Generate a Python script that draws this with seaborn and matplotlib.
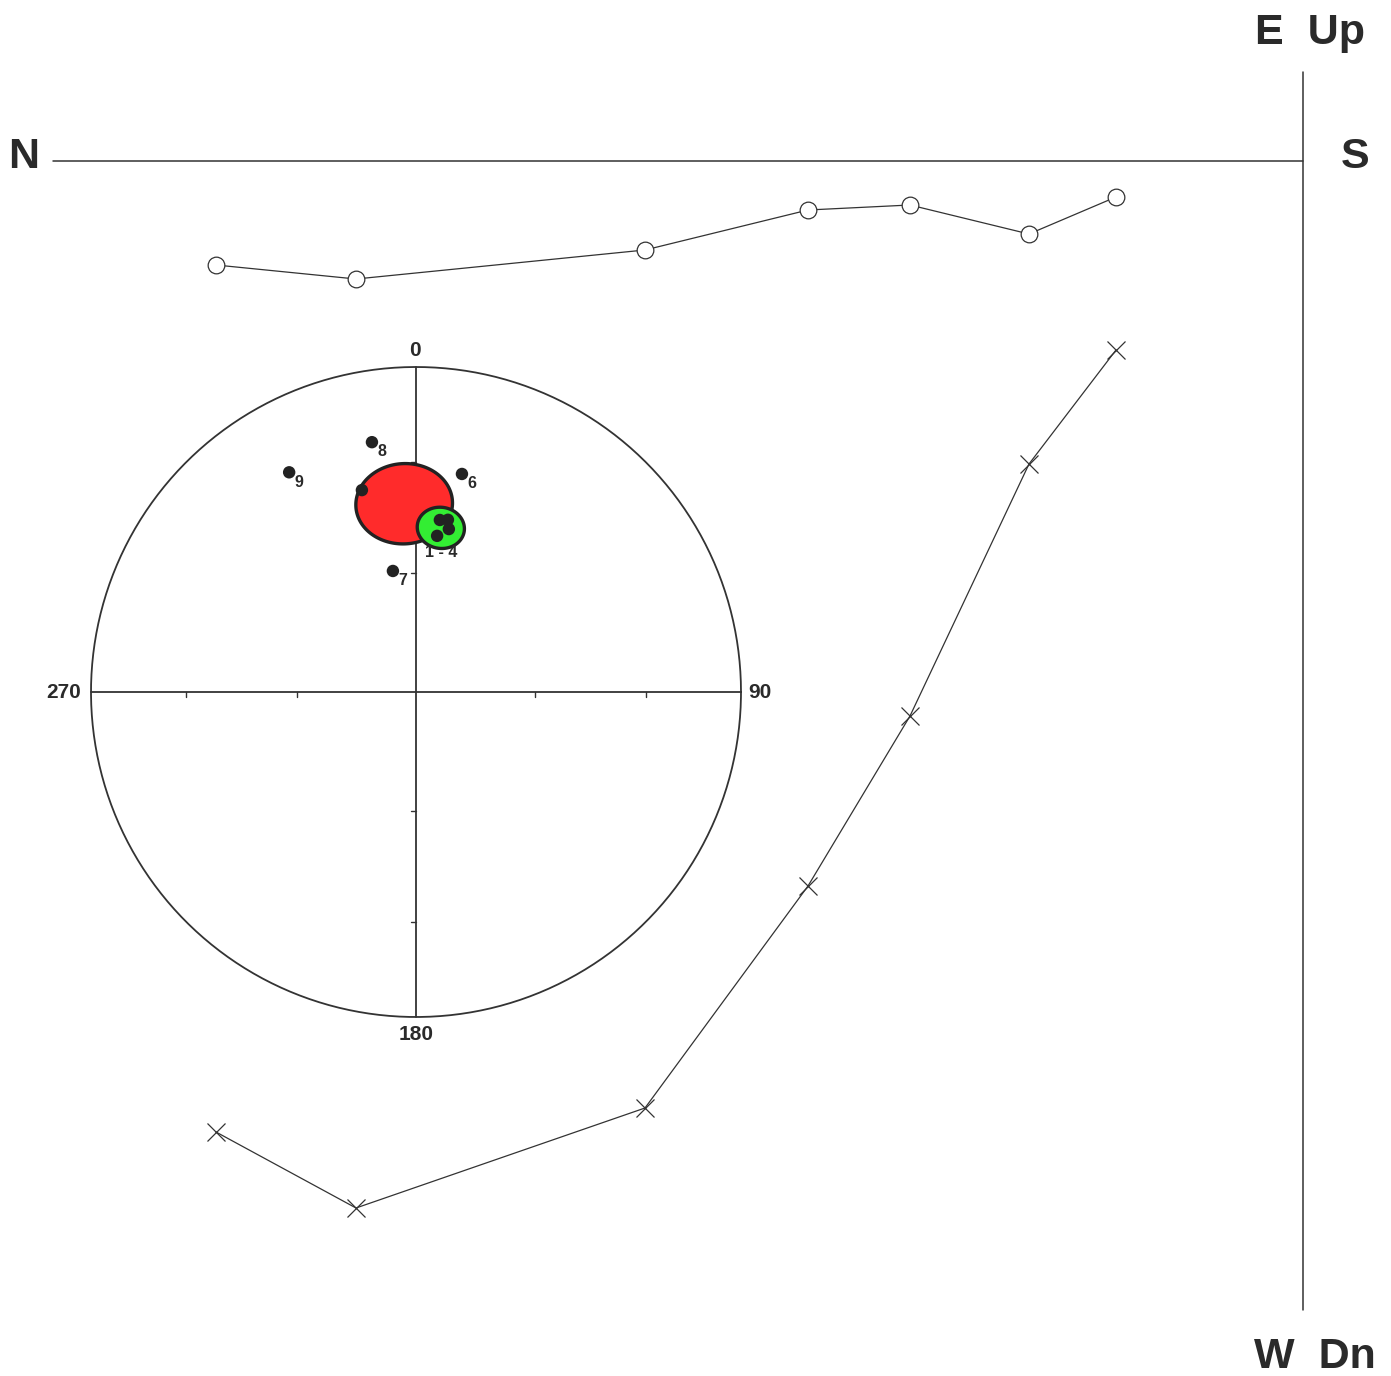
import numpy as np
import pandas as pd
import matplotlib
matplotlib.use('Agg')
import matplotlib.pyplot as plt
import seaborn as sns

# --- Zijderveld data (demag steps), components in arbitrary units ---
steps = [1, 2, 3, 4, 5, 6, 7]
north = [10.87, 9.47, 6.58, 4.95, 3.93, 2.74, 1.87]
up = [-1.04, -1.18, -0.89, -0.49, -0.44, -0.73, -0.36]
east = [-9.71, -10.47, -9.47, -7.25, -5.55, -3.03, -1.89]

# --- stereonet: specimen directions ---
spec_labels = ['1', '2', '3', '4', '5', '6', '7', '8', '9']
spec_dec = [7.9, 10.5, 11.4, 7.7, 345.0, 11.9, 349.2, 350.0, 330.0]
spec_inc = [45.6, 45.2, 47.6, 49.9, 35.9, 32.0, 58.9, 23.0, 23.0]
shown_labels = ['6', '7', '8', '9']

# mean directions with alpha95 cones
mean_names = ['all', '1 - 4']
mean_dec = [356.4, 8.6]
mean_inc = [41.3, 47.6]
mean_a95 = [11.0, 5.5]
mean_colours = ['#ff2b2b', '#33ee33']

# stereonet placement (in plot units)
CX, CY, R = -8.87, -5.31, 3.25
LINE = '#333333'
TXT = '#2a2a2a'


def project(dec, inc):
    dec = np.radians(np.asarray(dec, dtype=float))
    inc = np.asarray(inc, dtype=float)
    r = np.sqrt(2) * np.sin(np.radians(90 - np.abs(inc)) / 2)
    return CX + R * r * np.sin(dec), CY + R * r * np.cos(dec)


def small_circle(dec, inc, a95, n=240):
    d, i, a = np.radians(dec), np.radians(inc), np.radians(a95)
    m = np.array([np.cos(i) * np.cos(d), np.cos(i) * np.sin(d), np.sin(i)])
    u = np.cross(m, [0, 0, 1.0])
    u /= np.linalg.norm(u)
    v = np.cross(m, u)
    phi = np.linspace(0, 2 * np.pi, n)
    pts = (np.cos(a) * m[:, None]
           + np.sin(a) * (np.cos(phi)[None, :] * u[:, None] + np.sin(phi)[None, :] * v[:, None]))
    decs = np.degrees(np.arctan2(pts[1], pts[0]))
    incs = np.degrees(np.arcsin(np.clip(pts[2], -1, 1)))
    return project(decs, incs)


sns.set_style('white')
plt.rcParams['font.family'] = ['Liberation Sans', 'DejaVu Sans']

fig = plt.figure(figsize=(13.91, 13.76), dpi=100)
ax = fig.add_axes([0, 0, 1, 1])
ax.set_xlim(-13.03, 0.88)
ax.set_ylim(-12.15, 1.61)
ax.set_aspect('equal')
ax.axis('off')

# Zijderveld axes
big = dict(fontsize=31, fontweight='bold', color=TXT, ha='center', va='center')
ax.plot([-12.5, 0], [0, 0], color=LINE, lw=1.1)
ax.plot([0, 0], [0.89, -11.49], color=LINE, lw=1.1)
ax.text(-12.79, 0.04, 'N', **big)
ax.text(0.52, 0.04, 'S', **big)
ax.text(0.07, 1.28, 'E  Up', **big)
ax.text(0.12, -11.96, 'W  Dn', **big)

zij = pd.DataFrame({'step': steps, 'x': [-v for v in north], 'up': up, 'east': east})
sns.lineplot(data=zij, x='x', y='up', sort=False, estimator=None, ax=ax,
             color=LINE, lw=0.9, marker='o', markersize=12,
             markerfacecolor='white', markeredgecolor=LINE, markeredgewidth=0.9)
sns.lineplot(data=zij, x='x', y='east', sort=False, estimator=None, ax=ax,
             color=LINE, lw=0.9, marker='x', markersize=13,
             markeredgecolor=LINE, markeredgewidth=0.9)

# stereonet frame
t = np.linspace(0, 2 * np.pi, 400)
ax.plot(CX + R * np.cos(t), CY + R * np.sin(t), color=LINE, lw=1.3)
ax.plot([CX - R, CX + R], [CY, CY], color=LINE, lw=1.3)
ax.plot([CX, CX], [CY - R, CY + R], color=LINE, lw=1.3)
for ti in [30, 60]:
    rr = R * np.sqrt(2) * np.sin(np.radians(90 - ti) / 2)
    for s in [-1, 1]:
        ax.plot([CX + s * rr] * 2, [CY, CY - 0.05], color=LINE, lw=1)
        ax.plot([CX - 0.05, CX], [CY + s * rr] * 2, color=LINE, lw=1)
small = dict(fontsize=15, fontweight='bold', color=TXT, ha='center', va='center')
ax.text(CX - 0.01, CY + R + 0.17, '0', **small)
ax.text(CX, CY - R - 0.17, '180', **small)
ax.text(CX - R - 0.27, CY, '270', **small)
ax.text(CX + R + 0.19, CY, '90', **small)

# alpha95 cones
for d, i, a, c in zip(mean_dec, mean_inc, mean_a95, mean_colours):
    xs, ys = small_circle(d, i, a)
    ax.fill(xs, ys, facecolor=c, edgecolor='#222222', lw=2.4, zorder=3)

# specimen directions
sx, sy = project(spec_dec, spec_inc)
spec = pd.DataFrame({'label': spec_labels, 'x': sx, 'y': sy})
sns.scatterplot(data=spec, x='x', y='y', ax=ax, s=80, color='#222222',
                edgecolor='none', zorder=4, legend=False)
for _, row in spec.iterrows():
    if row['label'] in shown_labels:
        ax.annotate(row['label'], (row['x'], row['y']), xytext=(7, -7),
                    textcoords='offset points', fontsize=11.5, fontweight='bold',
                    color=TXT, ha='center', va='center', zorder=5)
gx, gy = project(mean_dec[1], mean_inc[1])
ax.annotate(mean_names[1], (gx, gy), xytext=(0, -18), textcoords='offset points',
            fontsize=11.5, fontweight='bold', color=TXT, ha='center', va='center', zorder=5)

ax.set_xlabel('')
ax.set_ylabel('')
fig.savefig('out.png', dpi=100, facecolor='white')
